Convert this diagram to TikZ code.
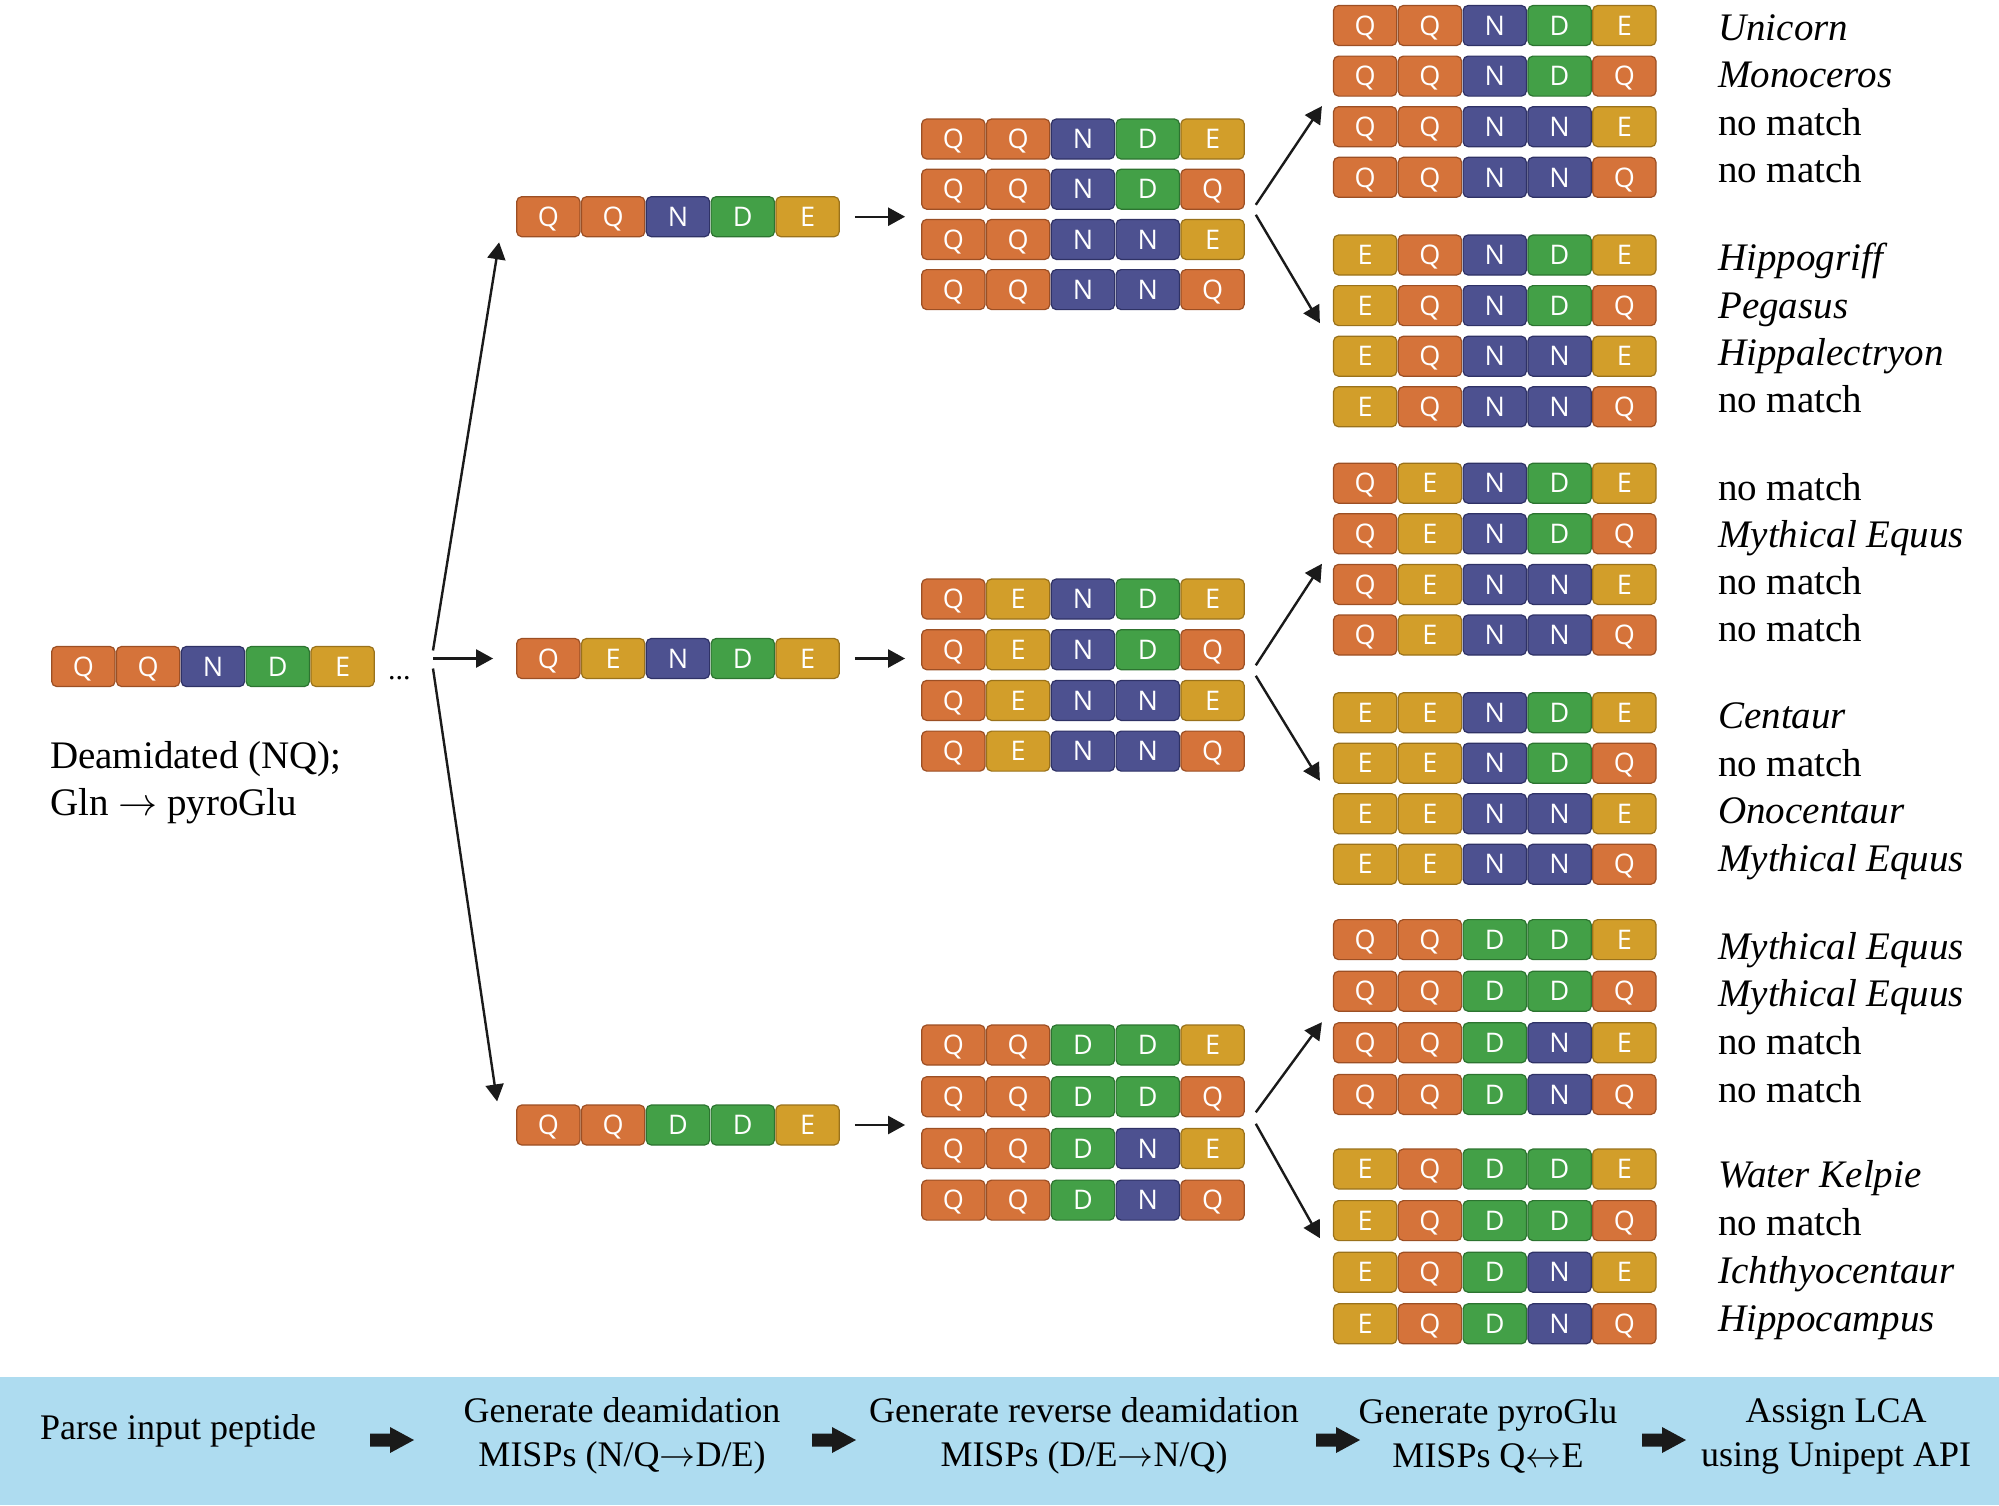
\RequirePackage{fix-cm}
\documentclass[tikz,border=0pt]{standalone}
\usepackage{fontspec}
\setmainfont{Liberation Serif}
\newfontfamily\aafont{Open Sans}
\usetikzlibrary{arrows.meta,calc}
\definecolor{cQ}{HTML}{D5733A}
\definecolor{cQd}{HTML}{9C4F24}
\definecolor{cE}{HTML}{D29E2A}
\definecolor{cEd}{HTML}{9A721B}
\definecolor{cN}{HTML}{4D5190}
\definecolor{cNd}{HTML}{2F3266}
\definecolor{cD}{HTML}{43A047}
\definecolor{cDd}{HTML}{2C7430}
\definecolor{bandc}{HTML}{AEDCF0}
\definecolor{ink}{HTML}{1A1A1A}
\tikzset{
  aa/.style={rounded corners=5pt, minimum width=63.3pt, minimum height=40pt, inner sep=0pt,
    text height=19.5pt, text depth=0pt, text=white, font=\aafont\fontsize{27}{27}\selectfont,
    line width=1.2pt, fill=c#1, draw=c#1d},
  arr/.style={draw=ink, line width=2.4pt, -{Triangle[length=17pt,width=18pt]}},
  lab/.style={anchor=base west, inner sep=0pt, font=\fontsize{39}{47}\selectfont},
  bandtxt/.style={align=center, inner sep=0pt, font=\fontsize{36}{44}\selectfont},
}
\newcommand\pep[4]{\foreach \l [count=\i] in {#4}{\node[aa=\l] (#1-\i) at ({#2+31.65+(\i-1)*64.8},{#3}) {\l};}}
\newcommand\grp[8]{\pep{#1-1}{#2}{#3}{#5}\pep{#1-2}{#2}{#3+#4}{#6}\pep{#1-3}{#2}{#3+2*#4}{#7}\pep{#1-4}{#2}{#3+3*#4}{#8}}
% labels: name, first baseline, pitch, four texts
\newcommand\labs[7]{%
  \node[lab] (#1-1) at (1718,{#2}) {#4};
  \node[lab] (#1-2) at (1718,{#2+#3}) {#5};
  \node[lab] (#1-3) at (1718,{#2+2*#3}) {#6};
  \node[lab] (#1-4) at (1718,{#2+3*#3}) {#7};}
\newcommand\blockarrow[1]{\fill[ink] (#1,1433.5) -- ({#1+20},1433.5) -- ({#1+20},1427) -- ({#1+44},1440) -- ({#1+20},1453) -- ({#1+20},1446.5) -- (#1,1446.5) -- cycle;}
\begin{document}
\begin{tikzpicture}[x=1pt,y=-1pt]
\useasboundingbox (0,0) rectangle (1999,1505);
% input peptide
\pep{in}{51.7}{666.5}{Q,Q,N,D,E}
\node[anchor=base west, inner sep=0pt, font=\fontsize{30}{30}\selectfont] (dots) at (388,679) {...};
\node[anchor=base west, inner sep=0pt, align=left, font=\fontsize{39}{47}\selectfont] (note) at (50,815)
  {Deamidated (NQ);\\Gln $\rightarrow$ pyroGlu};
\coordinate (split) at (433,658.5);
% level 1
\pep{p1}{516.7}{216.7}{Q,Q,N,D,E}
\pep{p2}{516.7}{658.5}{Q,E,N,D,E}
\pep{p3}{516.7}{1125}{Q,Q,D,D,E}
\draw[arr] ([yshift=8pt]split) -- ([shift={(-17pt,-5pt)}]p1-1.south west);
\draw[arr] (split) -- ([xshift=-23pt]p2-1.west);
\draw[arr] ([yshift=-10pt]split) -- ([shift={(-19pt,3pt)}]p3-1.north west);
% level 2
\grp{g1}{921.7}{139}{50.2}{Q,Q,N,D,E}{Q,Q,N,D,Q}{Q,Q,N,N,E}{Q,Q,N,N,Q}
\grp{g2}{921.7}{599}{50.7}{Q,E,N,D,E}{Q,E,N,D,Q}{Q,E,N,N,E}{Q,E,N,N,Q}
\grp{g3}{921.7}{1045}{51.7}{Q,Q,D,D,E}{Q,Q,D,D,Q}{Q,Q,D,N,E}{Q,Q,D,N,Q}
\draw[arr] ([xshift=15pt]p1-5.east) -- ([xshift=-16pt]p1-5.east -| g1-1-1.west);
\draw[arr] ([xshift=15pt]p2-5.east) -- ([xshift=-16pt]p2-5.east -| g2-1-1.west);
\draw[arr] ([xshift=15pt]p3-5.east) -- ([xshift=-16pt]p3-5.east -| g3-1-1.west);
% level 3
\grp{a1}{1333.5}{25.5}{50.6}{Q,Q,N,D,E}{Q,Q,N,D,Q}{Q,Q,N,N,E}{Q,Q,N,N,Q}
\grp{a2}{1333.5}{255}{50.6}{E,Q,N,D,E}{E,Q,N,D,Q}{E,Q,N,N,E}{E,Q,N,N,Q}
\grp{b1}{1333.5}{483.2}{50.6}{Q,E,N,D,E}{Q,E,N,D,Q}{Q,E,N,N,E}{Q,E,N,N,Q}
\grp{b2}{1333.5}{712.7}{50.5}{E,E,N,D,E}{E,E,N,D,Q}{E,E,N,N,E}{E,E,N,N,Q}
\grp{c1}{1333.5}{939.6}{51.6}{Q,Q,D,D,E}{Q,Q,D,D,Q}{Q,Q,D,N,E}{Q,Q,D,N,Q}
\grp{c2}{1333.5}{1169}{51.6}{E,Q,D,D,E}{E,Q,D,D,Q}{E,Q,D,N,E}{E,Q,D,N,Q}
% level 2 -> level 3
\draw[arr] ([shift={(11pt,5pt)}]g1-2-5.south east) -- ([xshift=-11pt]a1-3-1.north west);
\draw[arr] ([shift={(11pt,4pt)}]g1-3-5.north east) -- ([shift={(-13pt,3pt)}]a2-2-1.south west);
\draw[arr] ([shift={(11pt,5pt)}]g2-2-5.south east) -- ([xshift=-11pt]b1-3-1.north west);
\draw[arr] ([shift={(11pt,4pt)}]g2-3-5.north east) -- ([shift={(-13pt,3pt)}]b2-2-1.south west);
\draw[arr] ([shift={(11pt,5pt)}]g3-2-5.south east) -- ([xshift=-11pt]c1-3-1.north west);
\draw[arr] ([shift={(11pt,4pt)}]g3-3-5.north east) -- ([shift={(-13pt,3pt)}]c2-2-1.south west);
% labels
\labs{la1}{40}{47.6}{\itshape Unicorn}{\itshape Monoceros}{no match}{no match}
\labs{la2}{270.8}{47.2}{\itshape Hippogriff}{\itshape Pegasus}{\itshape Hippalectryon}{no match}
\labs{lb1}{500.3}{47.2}{no match}{\itshape Mythical Equus}{no match}{no match}
\labs{lb2}{728.5}{47.6}{\itshape Centaur}{no match}{\itshape Onocentaur}{\itshape Mythical Equus}
\labs{lc1}{959.3}{47.6}{\itshape Mythical Equus}{\itshape Mythical Equus}{no match}{no match}
\labs{lc2}{1187.5}{48}{\itshape Water Kelpie}{no match}{\itshape Ichthyocentaur}{\itshape Hippocampus}
% band
\fill[bandc] (0,1377) rectangle (1999,1505);
\node[bandtxt] (s1) at (178,1431) {Parse input peptide};
\node[bandtxt] (s2) at (622,1436) {Generate deamidation\\MISPs (N/Q$\rightarrow$D/E)};
\node[bandtxt] (s3) at (1084,1436) {Generate reverse deamidation\\MISPs (D/E$\rightarrow$N/Q)};
\node[bandtxt] (s4) at (1488,1436) {Generate pyroGlu\\MISPs Q$\leftrightarrow$E};
\node[bandtxt] (s5) at (1836,1436) {Assign LCA\\using Unipept API};
\blockarrow{370}
\blockarrow{812}
\blockarrow{1316}
\blockarrow{1642}
\end{tikzpicture}
\end{document}
